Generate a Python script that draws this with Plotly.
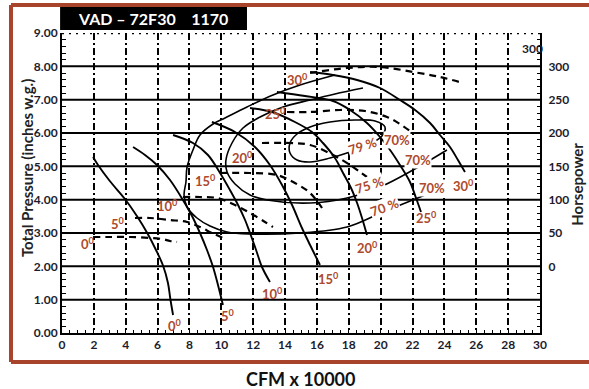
import plotly.graph_objects as go

# ---------------- data ----------------
x_ticks = [0, 2, 4, 6, 8, 10, 12, 14, 16, 18, 20, 22, 24, 26, 28, 30]
tp_ticks = [0, 1, 2, 3, 4, 5, 6, 7, 8, 9]
tp_labels = ["0.00", "1.00", "2.00", "3.00", "4.00", "5.00", "6.00", "7.00", "8.00", "9.00"]
hp_ticks = [0, 50, 100, 150, 200, 250, 300]

# blade-angle pressure curves (CFM x 10000 -> total pressure)
p0_cfm = [1.95, 2.26, 3.0, 3.95, 4.7, 5.35, 5.9, 6.35, 6.65, 6.8, 6.97]
p0_tp = [5.28, 5.04, 4.56, 4.02, 3.51, 3.0, 2.49, 2.01, 1.5, 1.02, 0.54]
p5_cfm = [4.46, 5.21, 5.96, 6.78, 7.59, 8.16, 8.66, 9.1, 9.48, 9.79, 10.1]
p5_tp = [5.58, 5.34, 5.04, 4.59, 3.99, 3.51, 3.0, 2.49, 1.98, 1.44, 0.84]
p10_cfm = [6.97, 8.22, 9.16, 9.92, 10.54, 11.05, 11.49, 11.8, 12.18, 12.55, 13.05]
p10_tp = [5.94, 5.70, 5.34, 4.80, 4.29, 3.84, 3.39, 3.0, 2.49, 1.98, 1.53]
p15_cfm = [9.41, 10.86, 12.11, 13.05, 13.81, 14.44, 15.06, 15.57, 16.19]
p15_tp = [6.33, 6.03, 5.58, 5.04, 4.44, 3.84, 3.15, 2.64, 2.04]
p20_cfm = [11.8, 13.18, 14.62, 15.69, 16.38, 17.13, 17.64, 18.14, 18.52, 18.83, 19.14]
p20_tp = [6.75, 6.63, 6.33, 6.03, 5.70, 5.25, 4.80, 4.35, 3.90, 3.45, 2.94]
p25_cfm = [13.49, 15.25, 17.01, 18.08, 19.14, 19.96, 20.59, 21.21, 21.84, 22.22, 22.53]
p25_tp = [7.23, 7.11, 6.96, 6.69, 6.30, 5.88, 5.49, 5.04, 4.53, 4.05, 3.63]
p30_cfm = [15.57, 17.01, 18.52, 19.96, 21.21, 22.16, 23.10, 23.72, 24.35, 24.85, 25.29]
p30_tp = [7.83, 7.74, 7.59, 7.35, 6.99, 6.69, 6.30, 5.94, 5.58, 5.19, 4.83]

# blade-angle horsepower curves (dashed), plotted on the pressure scale
h0_cfm = [1.95, 3.01, 4.27, 5.52, 6.28, 6.78, 7.22]
h0_tp = [2.88, 2.88, 2.88, 2.85, 2.82, 2.76, 2.73]
h5_cfm = [4.58, 5.52, 6.78, 7.85, 8.66, 9.41, 10.1]
h5_tp = [3.45, 3.45, 3.39, 3.33, 3.18, 3.0, 2.85]
h10_cfm = [7.59, 8.66, 9.73, 10.86, 11.8, 12.74, 13.24]
h10_tp = [4.08, 4.08, 4.05, 3.84, 3.6, 3.33, 3.18]
h15_cfm = [9.92, 11.8, 13.49, 14.62, 15.57, 16.32]
h15_tp = [4.8, 4.8, 4.74, 4.5, 4.2, 3.75]
h20_cfm = [12.55, 14.31, 15.57, 17.01, 18.08, 19.14]
h20_tp = [5.7, 5.7, 5.64, 5.34, 5.04, 4.68]
h25_cfm = [14.12, 15.57, 17.45, 19.02, 20.4, 21.21, 21.84]
h25_tp = [6.63, 6.63, 6.69, 6.66, 6.48, 6.27, 6.06]
h30_cfm = [15.57, 17.89, 19.96, 22.03, 23.72, 25.17]
h30_tp = [7.8, 7.95, 7.98, 7.83, 7.68, 7.5]

# efficiency contours
e70_cfm = [17.13, 14.94, 13.24, 11.61, 10.23, 9.48, 8.66, 8.22, 7.85, 7.78, 7.66, 7.85,
           8.47, 9.29, 10.36, 11.8, 14.94, 17.89, 20.15, 23.1, 23.72]
e70_tp = [7.74, 7.44, 7.14, 6.78, 6.45, 6.27, 5.94, 5.49, 4.98, 4.53, 4.14, 3.78,
          3.45, 3.21, 3.03, 2.97, 3.0, 3.18, 3.63, 4.2, 4.32]
e75_cfm = [18.89, 17.13, 15.57, 13.87, 12.43, 11.36, 10.67, 10.29, 10.36, 10.86, 11.8,
           12.87, 15.57, 17.89, 19.96, 22.03, 24.16]
e75_tp = [7.35, 7.17, 6.99, 6.78, 6.48, 6.15, 5.70, 5.19, 4.83, 4.47, 4.14,
          3.99, 3.90, 4.05, 4.38, 4.89, 5.49]
e79_cfm = [14.31, 14.75, 15.57, 16.82, 18.39, 19.65, 20.27, 20.08, 19.21, 18.08, 16.82,
           15.57, 14.75, 14.31, 14.31]
e79_tp = [5.70, 5.97, 6.18, 6.33, 6.39, 6.36, 6.18, 5.91, 5.64, 5.43, 5.25,
          5.13, 5.19, 5.40, 5.70]

# labels
angle_text = ["0", "5", "10", "15", "20", "25", "30"]
top_lab_cfm = [1.63, 3.52, 6.65, 8.98, 11.3, 13.37, 14.75]
top_lab_tp = [2.70, 3.30, 3.84, 4.59, 5.28, 6.60, 7.62]
bot_lab_cfm = [7.09, 10.42, 13.18, 16.7, 19.2, 22.9, 25.17]
bot_lab_tp = [0.24, 0.54, 1.20, 1.65, 2.58, 3.48, 4.44]
eff_text = ["79 %", "70%", "70%", "75 %", "70%", "70 %"]
eff_cfm = [18.83, 21.03, 22.34, 19.27, 23.22, 20.27]
eff_tp = [5.61, 5.79, 5.19, 4.44, 4.35, 3.78]
eff_angle = [-18, 0, 0, -18, 0, -20]

# ---------------- figure ----------------
BROWN = "#a8442c"
LABEL = "#ad4a2e"
INK = "#1c1c2c"
FONT = "Lato"

fig = go.Figure()

pressure = [(p0_cfm, p0_tp), (p5_cfm, p5_tp), (p10_cfm, p10_tp), (p15_cfm, p15_tp),
            (p20_cfm, p20_tp), (p25_cfm, p25_tp), (p30_cfm, p30_tp)]
for cx, cy in pressure:
    fig.add_trace(go.Scatter(x=cx, y=cy, mode="lines", line=dict(color="black", width=1.9, shape="spline"),
                             hoverinfo="skip", showlegend=False))

hp = [(h0_cfm, h0_tp), (h5_cfm, h5_tp), (h10_cfm, h10_tp), (h15_cfm, h15_tp),
      (h20_cfm, h20_tp), (h25_cfm, h25_tp), (h30_cfm, h30_tp)]
for cx, cy in hp:
    fig.add_trace(go.Scatter(x=cx, y=cy, mode="lines",
                             line=dict(color="black", width=2.2, dash="7px,5px", shape="spline"),
                             hoverinfo="skip", showlegend=False))

for cx, cy in [(e70_cfm, e70_tp), (e75_cfm, e75_tp), (e79_cfm, e79_tp)]:
    fig.add_trace(go.Scatter(x=cx, y=cy, mode="lines", line=dict(color="black", width=1.6, shape="spline"),
                             hoverinfo="skip", showlegend=False))

# invisible trace to activate secondary axis
fig.add_trace(go.Scatter(x=[0], y=[0], yaxis="y2", mode="markers", marker=dict(opacity=0),
                         hoverinfo="skip", showlegend=False))

# horizontal grid lines
for v in tp_ticks[1:-1]:
    fig.add_shape(type="line", xref="x", yref="y", x0=0, x1=30, y0=v, y1=v,
                  line=dict(color="black", width=2), layer="below")
# dotted top edge
fig.add_shape(type="line", xref="x", yref="y", x0=0, x1=30, y0=9, y1=9,
              line=dict(color="black", width=2.5, dash="2px,5px"))

# brown frame
fig.add_shape(type="line", xref="paper", yref="paper", x0=-0.1067, x1=1.12, y0=1.0933, y1=1.0933,
              line=dict(color=BROWN, width=4), layer="below")
fig.add_shape(type="line", xref="paper", yref="paper", x0=-0.1067, x1=1.12, y0=-0.0967, y1=-0.0967,
              line=dict(color=BROWN, width=4), layer="below")
fig.add_shape(type="line", xref="paper", yref="paper", x0=-0.1067, x1=-0.1067, y0=-0.0967, y1=1.0933,
              line=dict(color=BROWN, width=4), layer="below")
# title box
fig.add_shape(type="rect", xref="paper", yref="paper", x0=-0.004, x1=0.387, y0=1.01, y1=1.0867,
              fillcolor="black", line=dict(width=0), layer="below")

ann = []
ann.append(dict(text="<b>VAD \u2013 72F30&nbsp;&nbsp;&nbsp;&nbsp;1170</b>", xref="paper", yref="paper",
                x=0.19, y=1.047, xanchor="center", yanchor="middle",
                showarrow=False, font=dict(family=FONT, size=16, color="white")))
ann.append(dict(text="<b>Total Pressure (inches w.g.)</b>", xref="paper", yref="paper", x=-0.073, y=0.55,
                xanchor="center", yanchor="middle",
                textangle=-90, showarrow=False, font=dict(family=FONT, size=15, color="#222222")))
ann.append(dict(text="<b>Horsepower</b>", xref="paper", yref="paper", x=1.077, y=0.497,
                xanchor="center", yanchor="middle",
                textangle=-90, showarrow=False, font=dict(family=FONT, size=15, color="#222222")))
ann.append(dict(text="<b>CFM x 10000</b>", xref="paper", yref="paper", x=0.498, y=-0.153,
                xanchor="center", yanchor="middle",
                showarrow=False, font=dict(family=FONT, size=18, color="#111111")))
ann.append(dict(text="<b>300</b>", xref="x", yref="y", x=29.5, y=8.55, showarrow=False,
                xanchor="center", yanchor="middle",
                font=dict(family=FONT, size=12, color=INK)))

for t, lx, ly in zip(angle_text, top_lab_cfm, top_lab_tp):
    ann.append(dict(text=f"<b>{t}<sup>0</sup></b>", x=lx, y=ly, xref="x", yref="y", showarrow=False,
                    xanchor="center", yanchor="middle",
                    font=dict(family=FONT, size=13, color=LABEL)))
for t, lx, ly in zip(angle_text, bot_lab_cfm, bot_lab_tp):
    ann.append(dict(text=f"<b>{t}<sup>0</sup></b>", x=lx, y=ly, xref="x", yref="y", showarrow=False,
                    xanchor="center", yanchor="middle",
                    font=dict(family=FONT, size=13, color=LABEL)))
for t, lx, ly, a in zip(eff_text, eff_cfm, eff_tp, eff_angle):
    ann.append(dict(text=f"<b>{t}</b>", x=lx, y=ly, xref="x", yref="y", showarrow=False, textangle=a,
                    xanchor="center", yanchor="middle", bgcolor="white", borderpad=0,
                    font=dict(family=FONT, size=13, color=LABEL)))

fig.update_layout(
    width=589, height=389, autosize=False,
    margin=dict(l=62, r=49, t=33, b=56),
    paper_bgcolor="white", plot_bgcolor="rgba(0,0,0,0)",
    annotations=ann,
    xaxis=dict(range=[0, 30], tickvals=x_ticks, showgrid=True, gridcolor="black", gridwidth=1.6,
               griddash="7px,3px,2px,3px", zeroline=False, showline=True, linecolor="black", linewidth=2,
               ticks="inside", ticklen=4, tickcolor="black",
               minor=dict(dtick=0.5, ticks="inside", ticklen=3, tickcolor="black", showgrid=False),
               tickfont=dict(family=FONT, size=12, color=INK, weight="bold")),
    yaxis=dict(range=[0, 9], tickvals=tp_ticks, ticktext=tp_labels, showgrid=False, zeroline=False,
               showline=True, linecolor="black", linewidth=2, ticks="inside", ticklen=6, tickcolor="black",
               minor=dict(dtick=0.2, ticks="inside", ticklen=4, tickcolor="black", showgrid=False),
               tickfont=dict(family=FONT, size=12, color=INK, weight="bold")),
    yaxis2=dict(range=[-100, 350], tickvals=hp_ticks, overlaying="y", side="right", showgrid=False,
                zeroline=False, showline=True, linecolor="black", linewidth=2, ticks="inside", ticklen=5,
                tickcolor="black", ticklabelstandoff=4,
                minor=dict(dtick=10, ticks="inside", ticklen=3, tickcolor="black", showgrid=False),
                tickfont=dict(family=FONT, size=12, color=INK, weight="bold")),
)

fig.write_html("out.html")
